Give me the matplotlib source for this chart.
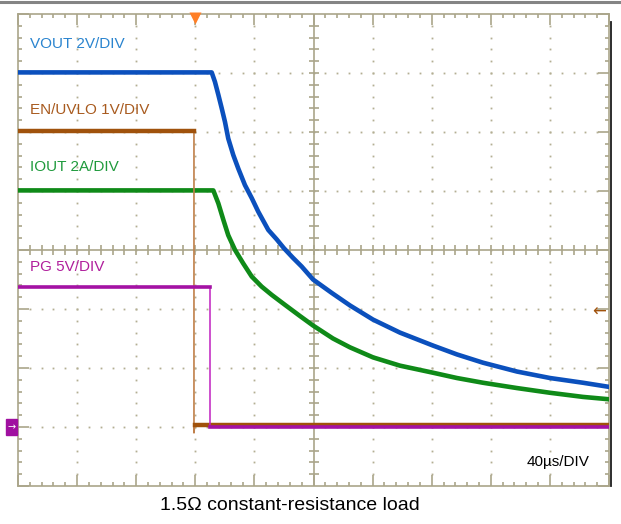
import numpy as np
import matplotlib
matplotlib.use("Agg")
from matplotlib import pyplot as plt
from matplotlib.lines import Line2D
from matplotlib.patches import Rectangle

plt.rcParams['font.family'] = ['Liberation Sans', 'DejaVu Sans']

# time in us (40us/DIV, 10 DIV), levels in screen divisions (0..8)
vout_t = [0, 131.1, 133.3, 135.6, 137.9, 140.1, 142.3, 145.7, 149.1, 153.6, 158.2,
          162.6, 169.4, 175.1, 180.0, 186.0, 192.0, 199.7, 212.5, 224.7,
          240.3, 258.5, 280.9, 297.1, 314.7, 337.7, 360.1, 382.4, 400]
vout_v = [7.01, 7.01, 6.85, 6.63, 6.40, 6.17, 5.89, 5.61, 5.38, 5.10, 4.88,
          4.65, 4.34, 4.18, 4.03, 3.87, 3.72, 3.50, 3.27, 3.06,
          2.82, 2.60, 2.38, 2.23, 2.09, 1.94, 1.83, 1.75, 1.68]

iout_t = [0, 132.2, 135.6, 139.0, 142.3, 146.9, 152.5, 158.2, 164.9, 171.7, 180.7,
          190.9, 199.7, 213.2, 224.7, 240.3, 258.5, 280.9, 297.1, 314.7, 337.7,
          360.1, 382.4, 400]
iout_v = [5.01, 5.01, 4.79, 4.51, 4.25, 4.00, 3.77, 3.55, 3.38, 3.24, 3.07,
          2.88, 2.72, 2.50, 2.35, 2.18, 2.04, 1.92, 1.83, 1.75, 1.66,
          1.58, 1.51, 1.47]

en_t = [0, 119.1, 119.1, 119.6, 400]
en_v = [6.02, 6.02, 0.90, 1.03, 1.03]

pg_t = [0, 130.0, 130.0, 400]
pg_v = [3.37, 3.37, 1.00, 1.00]

labels = ["VOUT 2V/DIV", "EN/UVLO 1V/DIV", "IOUT 2A/DIV", "PG 5V/DIV"]
label_y = [7.49, 6.37, 5.41, 3.71]
label_colors = ["#2a84cf", "#a85a1e", "#1f9a3c", "#b01f9c"]

GRID = "#b3ae92"
FRAME = "#aaa58a"


def main():
	fig = plt.figure(figsize=(6.21, 5.24), dpi=100)
	ax = fig.add_axes([18 / 621, 38 / 524, 591 / 621, 472 / 524])
	ax.set_xlim(0, 400)
	ax.set_ylim(0, 8)

	# frame + edge ticks
	for s in ax.spines.values():
		s.set_color(FRAME)
		s.set_linewidth(1.2)
	ax.set_xticks(np.arange(0, 401, 40))
	ax.set_xticks(np.arange(0, 401, 8), minor=True)
	ax.set_yticks(np.arange(0, 8.01, 1))
	ax.set_yticks(np.arange(0, 8.01, 0.2), minor=True)
	ax.tick_params(which="both", direction="in", top=True, right=True,
				   labelbottom=False, labelleft=False, color=FRAME, width=1.2)
	ax.tick_params(which="major", length=8)
	ax.tick_params(which="minor", length=3)

	# dotted graticule
	for gx in range(40, 400, 40):
		if gx == 200:
			continue
		ys = np.arange(0.2, 8, 0.2)
		ax.plot(np.full_like(ys, gx), ys, ls="none", marker="s", ms=1.3,
				mec="none", color=GRID, zorder=1)
	for gy in range(1, 8):
		if gy == 4:
			continue
		xs = np.arange(8, 400, 8)
		ax.plot(xs, np.full_like(xs, gy, dtype=float), ls="none", marker="s",
				ms=1.3, mec="none", color=GRID, zorder=1)

	# center crosshair with ticks
	ax.axvline(200, color=FRAME, lw=1.2, zorder=1)
	ax.axhline(4, color=FRAME, lw=1.2, zorder=1)
	xs = np.arange(8, 400, 8)
	ax.plot(xs, np.full_like(xs, 4.0, dtype=float), ls="none", marker="|",
			ms=7, mew=1.2, color=FRAME, zorder=1)
	ys = np.arange(0.2, 8, 0.2)
	ax.plot(np.full_like(ys, 200), ys, ls="none", marker="_",
			ms=7, mew=1.2, color=FRAME, zorder=1)

	# traces
	ax.plot(vout_t, vout_v, color="#0b50bd", lw=3.3, zorder=4, solid_joinstyle="round")
	ax.plot(iout_t, iout_v, color="#0f8a18", lw=3.3, zorder=3, solid_joinstyle="round")
	ax.plot(en_t, en_v, color="#c0804a", lw=1.2, zorder=5)
	ax.plot(en_t[:2], en_v[:2], color="#a0520c", lw=3.2, zorder=5)
	ax.plot(en_t[3:], en_v[3:], color="#a0520c", lw=3.2, zorder=5)
	ax.plot(pg_t, pg_v, color="#c020c0", lw=1.1, zorder=6)
	ax.plot(pg_t[:2], pg_v[:2], color="#a412a4", lw=2.6, zorder=6)
	ax.plot(pg_t[2:], pg_v[2:], color="#a412a4", lw=2.6, zorder=6)

	for txt, y, c in zip(labels, label_y, label_colors):
		ax.text(8, y, txt, color=c, fontsize=11, va="center", ha="left", zorder=7)
	ax.text(387, 0.41, "40\u00b5s/DIV", color="black", fontsize=11,
			va="center", ha="right", zorder=7)

	# markers: trigger, ground reference, trigger level
	ax.plot([120], [7.93], marker="v", ms=8, color="#ff7f27", mec="none",
			clip_on=False, zorder=8)
	ax.add_patch(Rectangle((-8.1, 0.86), 7.4, 0.28, color="#a010a0",
						   clip_on=False, zorder=8))
	ax.text(-4.4, 1.0, "\u2192", color="white", fontsize=7, ha="center",
			va="center", clip_on=False, zorder=9, family="DejaVu Sans")
	ax.text(393, 2.95, "\u2190", color="#a0520c", fontsize=12, ha="center",
			va="center", zorder=8, family="DejaVu Sans")

	# screen border details
	fig.add_artist(Line2D([0, 1], [1 - 2 / 524, 1 - 2 / 524], color="#848484", lw=2.2))
	fig.add_artist(Line2D([610.5 / 621, 610.5 / 621], [38 / 524, 1 - 22 / 524],
						  color="#1c1c1c", lw=1.3))

	fig.text(289.5 / 621, 1 - 506 / 524, "1.5\u03a9 constant-resistance load",
			 fontsize=14, ha="center", va="center")

	fig.savefig("out.png", dpi=100)


if __name__ == "__main__":
	main()
